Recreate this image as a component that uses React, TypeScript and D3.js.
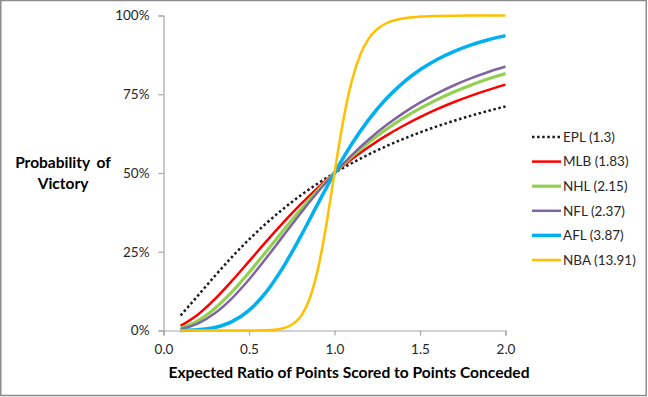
import { useEffect, useRef } from "react";
import * as d3 from "d3";

// expected ratio of points scored to points conceded
const ratio = [0.1, 0.2, 0.3, 0.4, 0.5, 0.6, 0.7, 0.8, 0.9, 1.0, 1.1, 1.2, 1.3, 1.4, 1.5, 1.6, 1.7, 1.8, 1.9, 2.0];
// NBA is steep round 1.0, so it is read at a finer step
const nbaRatio = [0.1, 0.2, 0.3, 0.4, 0.5, 0.6, 0.65, 0.7, 0.75, 0.8, 0.85, 0.9, 0.95, 1.0, 1.05, 1.1, 1.15, 1.2, 1.25, 1.3, 1.35, 1.4, 1.5, 1.6, 1.7, 1.8, 1.9, 2.0];

const epl = [0.0477, 0.1099, 0.1729, 0.2331, 0.2888, 0.3398, 0.3861, 0.428, 0.4658, 0.5, 0.5309, 0.559, 0.5845, 0.6076, 0.6288, 0.6482, 0.6659, 0.6822, 0.6973, 0.7112];
const mlb = [0.0146, 0.05, 0.0995, 0.1575, 0.2195, 0.282, 0.3424, 0.3993, 0.4519, 0.5, 0.5435, 0.5827, 0.6178, 0.6492, 0.6774, 0.7027, 0.7253, 0.7457, 0.7639, 0.7805];
const nhl = [0.007, 0.0305, 0.0699, 0.1224, 0.1839, 0.2501, 0.3172, 0.3823, 0.4436, 0.5, 0.5511, 0.5968, 0.6374, 0.6734, 0.7051, 0.7331, 0.7579, 0.7797, 0.799, 0.8161];
const nfl = [0.0042, 0.0216, 0.0545, 0.1023, 0.1621, 0.2296, 0.3004, 0.3708, 0.4379, 0.5, 0.5562, 0.6063, 0.6506, 0.6894, 0.7233, 0.7529, 0.7786, 0.8011, 0.8207, 0.8379];
const afl = [0.0001, 0.002, 0.0094, 0.028, 0.064, 0.1217, 0.201, 0.2966, 0.3995, 0.5, 0.5912, 0.6694, 0.734, 0.7862, 0.8277, 0.8604, 0.8863, 0.9068, 0.923, 0.936];
const nba = [0, 0, 0, 0, 0.0001, 0.0008, 0.0025, 0.007, 0.018, 0.0429, 0.0944, 0.1876, 0.3288, 0.5, 0.6634, 0.7901, 0.8748, 0.9266, 0.9571, 0.9746, 0.9848, 0.9908, 0.9965, 0.9986, 0.9994, 0.9997, 0.9999, 0.9999];

const seriesNames = ["EPL (1.3)", "MLB (1.83)", "NHL (2.15)", "NFL (2.37)", "AFL (3.87)", "NBA (13.91)"];
const xTicks = [0, 0.5, 1, 1.5, 2];
const yTicks = [0, 0.25, 0.5, 0.75, 1];

const styles = [
  { color: "#1a1a1a", width: 2.5, dash: "2.5 2.6" },
  { color: "#ff0000", width: 2.5, dash: null },
  { color: "#92d050", width: 3.2, dash: null },
  { color: "#8064a2", width: 2.5, dash: null },
  { color: "#00b0f0", width: 3.5, dash: null },
  { color: "#ffc000", width: 2.5, dash: null },
];

const W = 648;
const H = 397;
const FONT = "Lato, 'Open Sans', sans-serif";

export default function App() {
  const svgRef = useRef<SVGSVGElement | null>(null);

  useEffect(() => {
    if (!svgRef.current) return;
    const svg = d3.select(svgRef.current);
    svg.selectAll("*").remove();

    const xScale = d3.scaleLinear().domain([0, 2]).range([163.5, 505.5]);
    const yScale = d3.scaleLinear().domain([0, 1]).range([330.5, 15.5]);

    // outer frame
    svg.append("rect")
      .attr("x", 0.75).attr("y", 0.5)
      .attr("width", 645.5).attr("height", 395)
      .attr("fill", "#fff")
      .attr("stroke", "#8c8c8c")
      .attr("stroke-width", 1.5);

    const axisColor = "#a6a6a6";

    const yAxis = svg.append("g")
      .attr("transform", `translate(${xScale(0)},0)`)
      .call(d3.axisLeft(yScale).tickValues(yTicks).tickSize(5).tickPadding(9)
        .tickFormat(d => `${Math.round(+d * 100)}%`));
    yAxis.select(".domain").attr("stroke", axisColor).attr("stroke-width", 1.2);
    yAxis.selectAll("line").attr("stroke", axisColor).attr("stroke-width", 1.2);
    yAxis.selectAll("text")
      .attr("fill", "#262626")
      .attr("font-size", "13.5px")
      .attr("font-family", FONT);

    const xAxis = svg.append("g")
      .attr("transform", `translate(0,${yScale(0)})`)
      .call(d3.axisBottom(xScale).tickValues(xTicks).tickSize(5).tickPadding(9)
        .tickFormat(d => d3.format(".1f")(+d)));
    xAxis.select(".domain").attr("stroke", axisColor).attr("stroke-width", 1.2);
    xAxis.selectAll("line").attr("stroke", axisColor).attr("stroke-width", 1.2);
    xAxis.selectAll("text")
      .attr("fill", "#262626")
      .attr("font-size", "13.5px")
      .attr("font-family", FONT);

    // axis titles
    const yTitle = svg.append("text")
      .attr("text-anchor", "middle")
      .attr("font-family", FONT)
      .attr("font-weight", "bold")
      .attr("font-size", "15.5px")
      .attr("fill", "#000");
    yTitle.append("tspan").attr("x", 63).attr("y", 168).attr("word-spacing", "3px").text("Probability of");
    yTitle.append("tspan").attr("x", 63).attr("y", 189).text("Victory");

    svg.append("text")
      .attr("x", 349).attr("y", 378)
      .attr("text-anchor", "middle")
      .attr("font-family", FONT)
      .attr("font-weight", "bold")
      .attr("font-size", "15.6px")
      .attr("fill", "#000")
      .text("Expected Ratio of Points Scored to Points Conceded");

    const allSeries = [
      { xs: ratio, ys: epl },
      { xs: ratio, ys: mlb },
      { xs: ratio, ys: nhl },
      { xs: ratio, ys: nfl },
      { xs: ratio, ys: afl },
      { xs: nbaRatio, ys: nba },
    ];

    const lineGen = d3.line<[number, number]>()
      .x(d => xScale(d[0]))
      .y(d => yScale(d[1]))
      .curve(d3.curveMonotoneX);

    allSeries.forEach((s, i) => {
      const pts = s.xs.map((x, j) => [x, s.ys[j]] as [number, number]);
      const st = styles[i];
      svg.append("path")
        .datum(pts)
        .attr("d", lineGen)
        .attr("fill", "none")
        .attr("stroke", st.color)
        .attr("stroke-width", st.width)
        .attr("stroke-dasharray", st.dash ?? null);
    });

    // legend
    const legend = svg.append("g").attr("transform", "translate(532,137)");
    seriesNames.forEach((name, i) => {
      const st = styles[i];
      const row = legend.append("g").attr("transform", `translate(0,${i * 24.6})`);
      row.append("line")
        .attr("x1", 0).attr("x2", 29)
        .attr("y1", 0).attr("y2", 0)
        .attr("stroke", st.color)
        .attr("stroke-width", st.width)
        .attr("stroke-dasharray", st.dash ?? null);
      row.append("text")
        .attr("x", 31).attr("y", 0)
        .attr("dy", "0.35em")
        .attr("font-family", FONT)
        .attr("font-size", "13.5px")
        .attr("fill", "#262626")
        .text(name);
    });
  }, []);

  return (
    <svg
      ref={svgRef}
      width={W}
      height={H}
      style={{ position: "absolute", left: 0, top: 0, display: "block" }}
    />
  );
}
